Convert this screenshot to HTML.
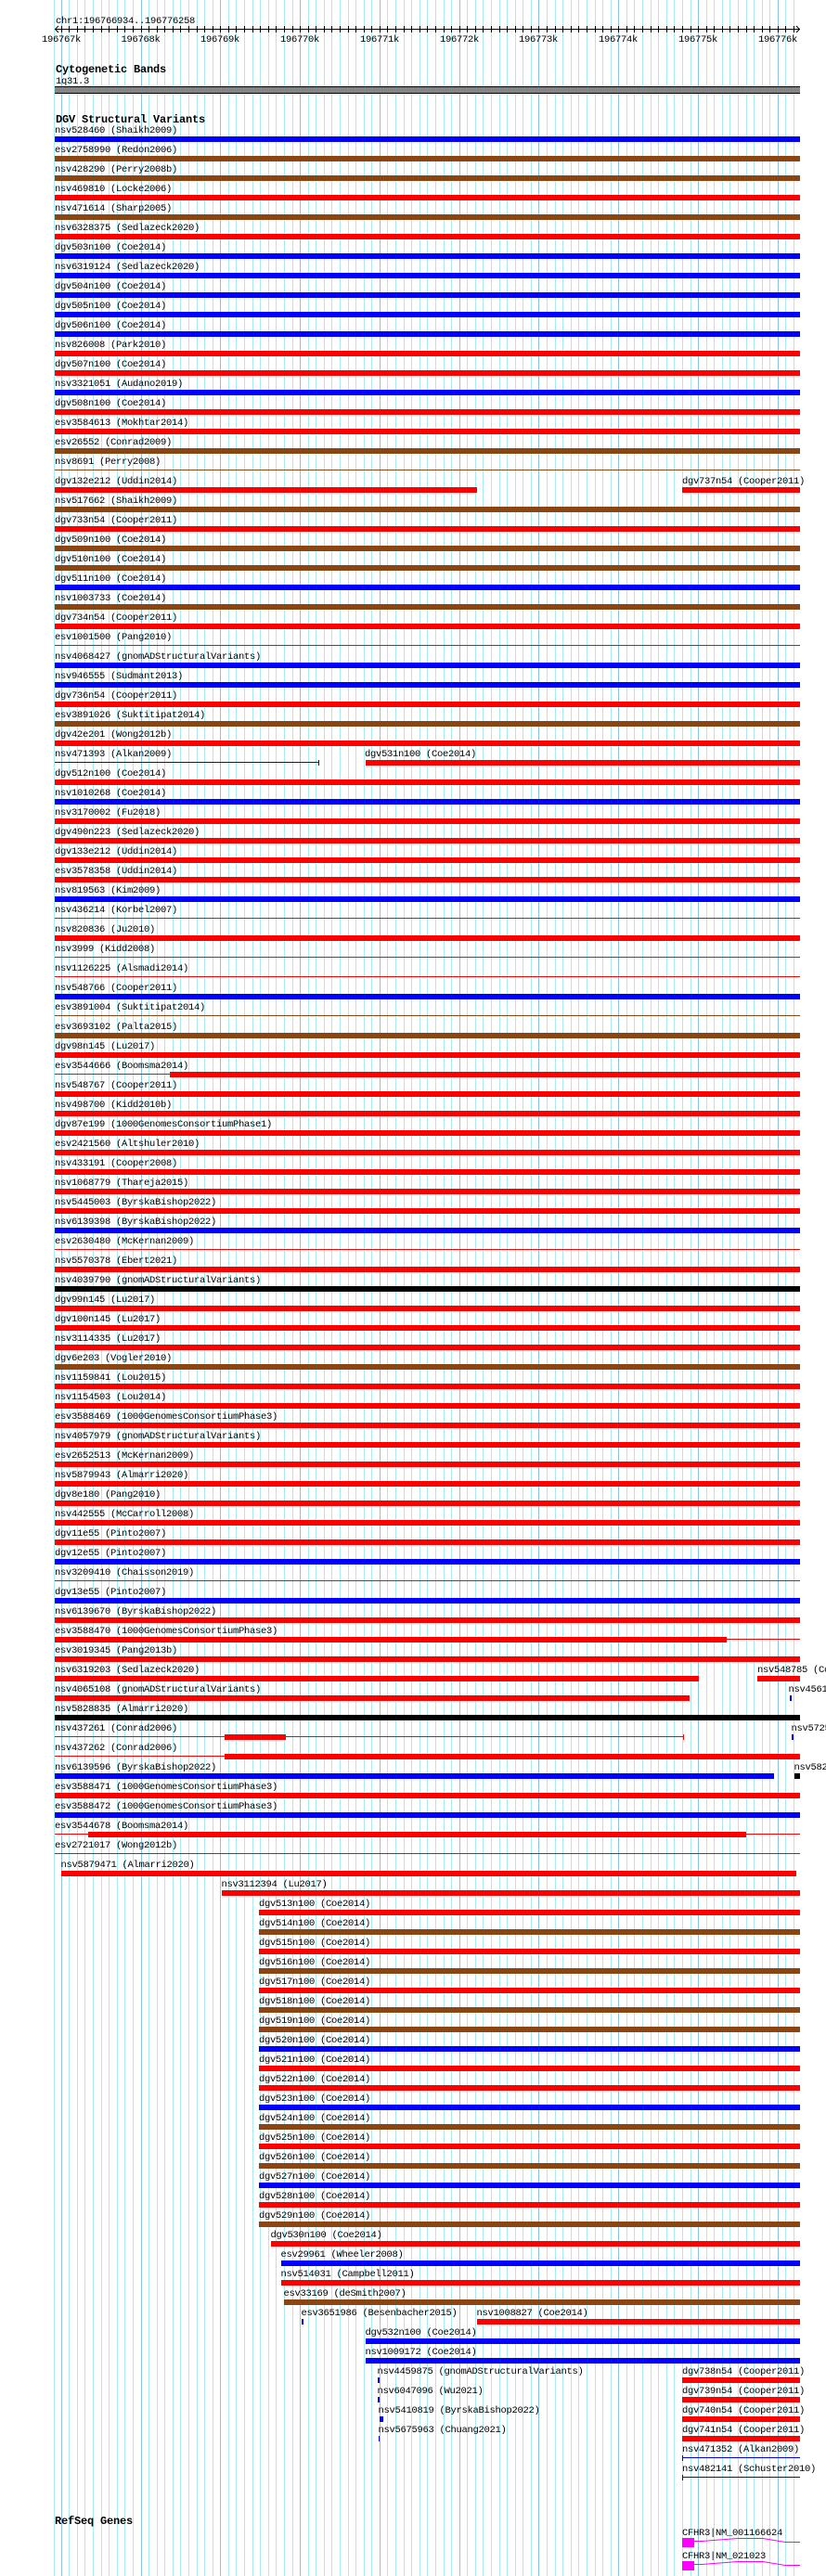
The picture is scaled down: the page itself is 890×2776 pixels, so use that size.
<!DOCTYPE html>
<html><head><meta charset="utf-8"><style>
html,body{margin:0;padding:0;background:#fff;width:890px;height:2776px;overflow:hidden}
svg{display:block}
.l{font-family:"Liberation Mono",monospace;font-size:10.5px;letter-spacing:-0.3px;fill:#000}
.t{font-family:"Liberation Mono",monospace;font-size:12px;font-weight:bold;letter-spacing:-0.2px;fill:#000}
.r{fill:#ff0000}.b{fill:#0000ff}.n{fill:#8b4513}.k{fill:#000}.m{fill:#ff00ff}
</style></head><body>
<svg width="890" height="2776" viewBox="0 0 890 2776" xmlns="http://www.w3.org/2000/svg">
<path stroke="#aaeaf0" stroke-width="1" fill="none" d="M58.5 0V2776M74.5 0V2776M83.5 0V2776M91.5 0V2776M100.5 0V2776M109.5 0V2776M117.5 0V2776M126.5 0V2776M134.5 0V2776M143.5 0V2776M160.5 0V2776M169.5 0V2776M177.5 0V2776M186.5 0V2776M194.5 0V2776M203.5 0V2776M212.5 0V2776M220.5 0V2776M229.5 0V2776M246.5 0V2776M254.5 0V2776M263.5 0V2776M272.5 0V2776M280.5 0V2776M289.5 0V2776M297.5 0V2776M306.5 0V2776M315.5 0V2776M332.5 0V2776M340.5 0V2776M349.5 0V2776M357.5 0V2776M366.5 0V2776M375.5 0V2776M383.5 0V2776M392.5 0V2776M400.5 0V2776M417.5 0V2776M426.5 0V2776M435.5 0V2776M443.5 0V2776M452.5 0V2776M460.5 0V2776M469.5 0V2776M478.5 0V2776M486.5 0V2776M503.5 0V2776M512.5 0V2776M520.5 0V2776M529.5 0V2776M538.5 0V2776M546.5 0V2776M555.5 0V2776M563.5 0V2776M572.5 0V2776M589.5 0V2776M598.5 0V2776M606.5 0V2776M615.5 0V2776M623.5 0V2776M632.5 0V2776M641.5 0V2776M649.5 0V2776M658.5 0V2776M675.5 0V2776M683.5 0V2776M692.5 0V2776M701.5 0V2776M709.5 0V2776M718.5 0V2776M726.5 0V2776M735.5 0V2776M744.5 0V2776M761.5 0V2776M769.5 0V2776M778.5 0V2776M786.5 0V2776M795.5 0V2776M804.5 0V2776M812.5 0V2776M821.5 0V2776M829.5 0V2776M846.5 0V2776M855.5 0V2776"/>
<path stroke="#8cc4e8" stroke-width="1" fill="none" d="M66.5 0V2776M152.5 0V2776M237.5 0V2776M323.5 0V2776M409.5 0V2776M495.5 0V2776M580.5 0V2776M666.5 0V2776M752.5 0V2776M838.5 0V2776"/>

<!-- ruler -->
<text class="l" x="60" y="25">chr1:196766934..196776258</text>
<path stroke="#000" stroke-width="1" fill="none" d="M59 31.5H862M63 28L59.5 31.5L63 35M858 28L861.5 31.5L858 35"/>
<path stroke="#000" stroke-width="1" fill="none" d="M66.5 28v7M74.5 28v7M83.5 28v7M91.5 28v7M100.5 28v7M109.5 28v7M117.5 28v7M126.5 28v7M134.5 28v7M143.5 28v7M152.5 28v7M160.5 28v7M169.5 28v7M177.5 28v7M186.5 28v7M194.5 28v7M203.5 28v7M212.5 28v7M220.5 28v7M229.5 28v7M237.5 28v7M246.5 28v7M254.5 28v7M263.5 28v7M272.5 28v7M280.5 28v7M289.5 28v7M297.5 28v7M306.5 28v7M315.5 28v7M323.5 28v7M332.5 28v7M340.5 28v7M349.5 28v7M357.5 28v7M366.5 28v7M375.5 28v7M383.5 28v7M392.5 28v7M400.5 28v7M409.5 28v7M417.5 28v7M426.5 28v7M435.5 28v7M443.5 28v7M452.5 28v7M460.5 28v7M469.5 28v7M478.5 28v7M486.5 28v7M495.5 28v7M503.5 28v7M512.5 28v7M520.5 28v7M529.5 28v7M538.5 28v7M546.5 28v7M555.5 28v7M563.5 28v7M572.5 28v7M580.5 28v7M589.5 28v7M598.5 28v7M606.5 28v7M615.5 28v7M623.5 28v7M632.5 28v7M641.5 28v7M649.5 28v7M658.5 28v7M666.5 28v7M675.5 28v7M683.5 28v7M692.5 28v7M701.5 28v7M709.5 28v7M718.5 28v7M726.5 28v7M735.5 28v7M744.5 28v7M752.5 28v7M761.5 28v7M769.5 28v7M778.5 28v7M786.5 28v7M795.5 28v7M804.5 28v7M812.5 28v7M821.5 28v7M829.5 28v7M838.5 28v7M846.5 28v7M855.5 28v7"/>
<g class="l" text-anchor="middle">
<text x="66" y="45">196767k</text><text x="151.5" y="45">196768k</text><text x="237" y="45">196769k</text><text x="323" y="45">196770k</text><text x="409" y="45">196771k</text><text x="495" y="45">196772k</text><text x="580" y="45">196773k</text><text x="666" y="45">196774k</text><text x="752" y="45">196775k</text><text x="838" y="45">196776k</text>
</g>

<!-- cytobands -->
<text class="t" x="60" y="78">Cytogenetic Bands</text>
<text class="l" x="60" y="90">1q31.3</text>
<rect x="59" y="93" width="803" height="1" fill="#000"/>
<rect x="59" y="94" width="803" height="6" fill="#858585"/>
<rect x="59" y="100" width="803" height="1" fill="#000"/>

<!-- DGV -->
<text class="t" x="60" y="132">DGV Structural Variants</text>

<g class="l">
<text x="59" y="143">nsv528460 (Shaikh2009)</text>
<text x="59" y="164">esv2758990 (Redon2006)</text>
<text x="59" y="185">nsv428290 (Perry2008b)</text>
<text x="59" y="206">nsv469810 (Locke2006)</text>
<text x="59" y="227">nsv471614 (Sharp2005)</text>
<text x="59" y="248">nsv6328375 (Sedlazeck2020)</text>
<text x="59" y="269">dgv503n100 (Coe2014)</text>
<text x="59" y="290">nsv6319124 (Sedlazeck2020)</text>
<text x="59" y="311">dgv504n100 (Coe2014)</text>
<text x="59" y="332">dgv505n100 (Coe2014)</text>
<text x="59" y="353">dgv506n100 (Coe2014)</text>
<text x="59" y="374">nsv826008 (Park2010)</text>
<text x="59" y="395">dgv507n100 (Coe2014)</text>
<text x="59" y="416">nsv3321051 (Audano2019)</text>
<text x="59" y="437">dgv508n100 (Coe2014)</text>
<text x="59" y="458">esv3584613 (Mokhtar2014)</text>
<text x="59" y="479">esv26552 (Conrad2009)</text>
<text x="59" y="500">nsv8691 (Perry2008)</text>
<text x="59" y="521">dgv132e212 (Uddin2014)</text>
<text x="735" y="521">dgv737n54 (Cooper2011)</text>
<text x="59" y="542">nsv517662 (Shaikh2009)</text>
<text x="59" y="563">dgv733n54 (Cooper2011)</text>
<text x="59" y="584">dgv509n100 (Coe2014)</text>
<text x="59" y="605">dgv510n100 (Coe2014)</text>
<text x="59" y="626">dgv511n100 (Coe2014)</text>
<text x="59" y="647">nsv1003733 (Coe2014)</text>
<text x="59" y="668">dgv734n54 (Cooper2011)</text>
<text x="59" y="689">esv1001500 (Pang2010)</text>
<text x="59" y="710">nsv4068427 (gnomADStructuralVariants)</text>
<text x="59" y="731">nsv946555 (Sudmant2013)</text>
<text x="59" y="752">dgv736n54 (Cooper2011)</text>
<text x="59" y="773">esv3891026 (Suktitipat2014)</text>
<text x="59" y="794">dgv42e201 (Wong2012b)</text>
<text x="59" y="815">nsv471393 (Alkan2009)</text>
<text x="393" y="815">dgv531n100 (Coe2014)</text>
<text x="59" y="836">dgv512n100 (Coe2014)</text>
<text x="59" y="857">nsv1010268 (Coe2014)</text>
<text x="59" y="878">nsv3170002 (Fu2018)</text>
<text x="59" y="899">dgv490n223 (Sedlazeck2020)</text>
<text x="59" y="920">dgv133e212 (Uddin2014)</text>
<text x="59" y="941">esv3578358 (Uddin2014)</text>
<text x="59" y="962">nsv819563 (Kim2009)</text>
<text x="59" y="983">nsv436214 (Korbel2007)</text>
<text x="59" y="1004">nsv820836 (Ju2010)</text>
<text x="59" y="1025">nsv3999 (Kidd2008)</text>
<text x="59" y="1046">nsv1126225 (Alsmadi2014)</text>
<text x="59" y="1067">nsv548766 (Cooper2011)</text>
<text x="59" y="1088">esv3891004 (Suktitipat2014)</text>
<text x="59" y="1109">esv3693102 (Palta2015)</text>
<text x="59" y="1130">dgv98n145 (Lu2017)</text>
<text x="59" y="1151">esv3544666 (Boomsma2014)</text>
<text x="59" y="1172">nsv548767 (Cooper2011)</text>
<text x="59" y="1193">nsv498700 (Kidd2010b)</text>
<text x="59" y="1214">dgv87e199 (1000GenomesConsortiumPhase1)</text>
<text x="59" y="1235">esv2421560 (Altshuler2010)</text>
<text x="59" y="1256">nsv433191 (Cooper2008)</text>
<text x="59" y="1277">nsv1068779 (Thareja2015)</text>
<text x="59" y="1298">nsv5445003 (ByrskaBishop2022)</text>
<text x="59" y="1319">nsv6139398 (ByrskaBishop2022)</text>
<text x="59" y="1340">esv2630480 (McKernan2009)</text>
<text x="59" y="1361">nsv5570378 (Ebert2021)</text>
<text x="59" y="1382">nsv4039790 (gnomADStructuralVariants)</text>
<text x="59" y="1403">dgv99n145 (Lu2017)</text>
<text x="59" y="1424">dgv100n145 (Lu2017)</text>
<text x="59" y="1445">nsv3114335 (Lu2017)</text>
<text x="59" y="1466">dgv6e203 (Vogler2010)</text>
<text x="59" y="1487">nsv1159841 (Lou2015)</text>
<text x="59" y="1508">nsv1154503 (Lou2014)</text>
<text x="59" y="1529">esv3588469 (1000GenomesConsortiumPhase3)</text>
<text x="59" y="1550">nsv4057979 (gnomADStructuralVariants)</text>
<text x="59" y="1571">esv2652513 (McKernan2009)</text>
<text x="59" y="1592">nsv5879943 (Almarri2020)</text>
<text x="59" y="1613">dgv8e180 (Pang2010)</text>
<text x="59" y="1634">nsv442555 (McCarroll2008)</text>
<text x="59" y="1655">dgv11e55 (Pinto2007)</text>
<text x="59" y="1676">dgv12e55 (Pinto2007)</text>
<text x="59" y="1697">nsv3209410 (Chaisson2019)</text>
<text x="59" y="1718">dgv13e55 (Pinto2007)</text>
<text x="59" y="1739">nsv6139670 (ByrskaBishop2022)</text>
<text x="59" y="1760">esv3588470 (1000GenomesConsortiumPhase3)</text>
<text x="59" y="1781">esv3019345 (Pang2013b)</text>
<text x="59" y="1802">nsv6319203 (Sedlazeck2020)</text>
<text x="816" y="1802">nsv548785 (Cooper2011)</text>
<text x="59" y="1823">nsv4065108 (gnomADStructuralVariants)</text>
<text x="849.5" y="1823">nsv4561234</text>
<text x="59" y="1844">nsv5828835 (Almarri2020)</text>
<text x="59" y="1865">nsv437261 (Conrad2006)</text>
<text x="852.5" y="1865">nsv5725</text>
<text x="59" y="1886">nsv437262 (Conrad2006)</text>
<text x="59" y="1907">nsv6139596 (ByrskaBishop2022)</text>
<text x="855.5" y="1907">nsv582</text>
<text x="59" y="1928">esv3588471 (1000GenomesConsortiumPhase3)</text>
<text x="59" y="1949">esv3588472 (1000GenomesConsortiumPhase3)</text>
<text x="59" y="1970">esv3544678 (Boomsma2014)</text>
<text x="59" y="1991">esv2721017 (Wong2012b)</text>
<text x="65.5" y="2012">nsv5879471 (Almarri2020)</text>
<text x="238.5" y="2033">nsv3112394 (Lu2017)</text>
<text x="279" y="2054">dgv513n100 (Coe2014)</text>
<text x="279" y="2075">dgv514n100 (Coe2014)</text>
<text x="279" y="2096">dgv515n100 (Coe2014)</text>
<text x="279" y="2117">dgv516n100 (Coe2014)</text>
<text x="279" y="2138">dgv517n100 (Coe2014)</text>
<text x="279" y="2159">dgv518n100 (Coe2014)</text>
<text x="279" y="2180">dgv519n100 (Coe2014)</text>
<text x="279" y="2201">dgv520n100 (Coe2014)</text>
<text x="279" y="2222">dgv521n100 (Coe2014)</text>
<text x="279" y="2243">dgv522n100 (Coe2014)</text>
<text x="279" y="2264">dgv523n100 (Coe2014)</text>
<text x="279" y="2285">dgv524n100 (Coe2014)</text>
<text x="279" y="2306">dgv525n100 (Coe2014)</text>
<text x="279" y="2327">dgv526n100 (Coe2014)</text>
<text x="279" y="2348">dgv527n100 (Coe2014)</text>
<text x="279" y="2369">dgv528n100 (Coe2014)</text>
<text x="279" y="2390">dgv529n100 (Coe2014)</text>
<text x="291.5" y="2411">dgv530n100 (Coe2014)</text>
<text x="302.5" y="2432">esv29961 (Wheeler2008)</text>
<text x="302.5" y="2453">nsv514031 (Campbell2011)</text>
<text x="305.5" y="2474">esv33169 (deSmith2007)</text>
<text x="324.5" y="2495">esv3651986 (Besenbacher2015)</text>
<text x="513.5" y="2495">nsv1008827 (Coe2014)</text>
<text x="393.5" y="2516">dgv532n100 (Coe2014)</text>
<text x="393.5" y="2537">nsv1009172 (Coe2014)</text>
<text x="406.5" y="2558">nsv4459875 (gnomADStructuralVariants)</text>
<text x="735" y="2558">dgv738n54 (Cooper2011)</text>
<text x="406.5" y="2579">nsv6047096 (Wu2021)</text>
<text x="735" y="2579">dgv739n54 (Cooper2011)</text>
<text x="407.5" y="2600">nsv5410819 (ByrskaBishop2022)</text>
<text x="735" y="2600">dgv740n54 (Cooper2011)</text>
<text x="407.5" y="2621">nsv5675963 (Chuang2021)</text>
<text x="735" y="2621">dgv741n54 (Cooper2011)</text>
<text x="735" y="2642">nsv471352 (Alkan2009)</text>
<text x="735" y="2663">nsv482141 (Schuster2010)</text>
</g>

<!-- bars -->
<rect class="b" x="59" y="147" width="803" height="6"/>
<rect class="n" x="59" y="168" width="803" height="6"/>
<rect class="n" x="59" y="189" width="803" height="6"/>
<rect class="r" x="59" y="210" width="803" height="6"/>
<rect class="n" x="59" y="231" width="803" height="6"/>
<rect class="r" x="59" y="252" width="803" height="6"/>
<rect class="b" x="59" y="273" width="803" height="6"/>
<rect class="b" x="59" y="294" width="803" height="6"/>
<rect class="b" x="59" y="315" width="803" height="6"/>
<rect class="b" x="59" y="336" width="803" height="6"/>
<rect class="b" x="59" y="357" width="803" height="6"/>
<rect class="r" x="59" y="378" width="803" height="6"/>
<rect class="r" x="59" y="399" width="803" height="6"/>
<rect class="b" x="59" y="420" width="803" height="6"/>
<rect class="r" x="59" y="441" width="803" height="6"/>
<rect class="r" x="59" y="462" width="803" height="6"/>
<rect class="n" x="59" y="483" width="803" height="6"/>
<rect class="n" x="59" y="506" width="803" height="1"/>
<rect class="r" x="59" y="525" width="455" height="6"/>
<rect class="r" x="735" y="525" width="127" height="6"/>
<rect class="n" x="59" y="546" width="803" height="6"/>
<rect class="r" x="59" y="567" width="803" height="6"/>
<rect class="n" x="59" y="588" width="803" height="6"/>
<rect class="n" x="59" y="609" width="803" height="6"/>
<rect class="b" x="59" y="630" width="803" height="6"/>
<rect class="n" x="59" y="651" width="803" height="6"/>
<rect class="r" x="59" y="672" width="803" height="6"/>
<rect class="r" x="59" y="695" width="803" height="1"/>
<rect class="b" x="59" y="714" width="803" height="6"/>
<rect class="b" x="59" y="735" width="803" height="6"/>
<rect class="r" x="59" y="756" width="803" height="6"/>
<rect class="n" x="59" y="777" width="803" height="6"/>
<rect class="r" x="59" y="798" width="803" height="6"/>
<rect class="b" x="59" y="821" width="285" height="1"/>
<rect class="b" x="343" y="819" width="1" height="6"/>
<rect class="r" x="394" y="819" width="468" height="6"/>
<rect class="r" x="59" y="840" width="803" height="6"/>
<rect class="b" x="59" y="861" width="803" height="6"/>
<rect class="r" x="59" y="882" width="803" height="6"/>
<rect class="r" x="59" y="903" width="803" height="6"/>
<rect class="r" x="59" y="924" width="803" height="6"/>
<rect class="r" x="59" y="945" width="803" height="6"/>
<rect class="b" x="59" y="966" width="803" height="6"/>
<rect class="r" x="59" y="989" width="803" height="1"/>
<rect class="r" x="59" y="1008" width="803" height="6"/>
<rect class="r" x="59" y="1031" width="803" height="1"/>
<rect class="r" x="59" y="1052" width="803" height="1"/>
<rect class="b" x="59" y="1071" width="803" height="6"/>
<rect class="n" x="59" y="1094" width="803" height="1"/>
<rect class="n" x="59" y="1113" width="803" height="6"/>
<rect class="r" x="59" y="1134" width="803" height="6"/>
<rect class="r" x="59" y="1157" width="124" height="1"/>
<rect class="r" x="183" y="1155" width="679" height="6"/>
<rect class="r" x="59" y="1176" width="803" height="6"/>
<rect class="r" x="59" y="1197" width="803" height="6"/>
<rect class="r" x="59" y="1218" width="803" height="6"/>
<rect class="r" x="59" y="1239" width="803" height="6"/>
<rect class="r" x="59" y="1260" width="803" height="6"/>
<rect class="r" x="59" y="1281" width="803" height="6"/>
<rect class="r" x="59" y="1302" width="803" height="6"/>
<rect class="b" x="59" y="1323" width="803" height="6"/>
<rect class="r" x="59" y="1346" width="803" height="1"/>
<rect class="r" x="59" y="1365" width="803" height="6"/>
<rect class="k" x="59" y="1386" width="803" height="6"/>
<rect class="r" x="59" y="1407" width="803" height="6"/>
<rect class="r" x="59" y="1428" width="803" height="6"/>
<rect class="r" x="59" y="1449" width="803" height="6"/>
<rect class="n" x="59" y="1470" width="803" height="6"/>
<rect class="r" x="59" y="1491" width="803" height="6"/>
<rect class="r" x="59" y="1512" width="803" height="6"/>
<rect class="r" x="59" y="1533" width="803" height="6"/>
<rect class="r" x="59" y="1554" width="803" height="6"/>
<rect class="r" x="59" y="1575" width="803" height="6"/>
<rect class="r" x="59" y="1596" width="803" height="6"/>
<rect class="r" x="59" y="1617" width="803" height="6"/>
<rect class="r" x="59" y="1638" width="803" height="6"/>
<rect class="r" x="59" y="1659" width="803" height="6"/>
<rect class="b" x="59" y="1680" width="803" height="6"/>
<rect class="r" x="59" y="1703" width="803" height="1"/>
<rect class="b" x="59" y="1722" width="803" height="6"/>
<rect class="r" x="59" y="1743" width="803" height="6"/>
<rect class="r" x="59" y="1764" width="724" height="6"/>
<rect class="r" x="783" y="1766" width="79" height="1"/>
<rect class="r" x="59" y="1785" width="803" height="6"/>
<rect class="r" x="59" y="1806" width="694" height="6"/>
<rect class="r" x="816" y="1806" width="46" height="6"/>
<rect class="r" x="59" y="1827" width="684" height="6"/>
<rect class="b" x="851" y="1827" width="2" height="6"/>
<rect class="k" x="59" y="1848" width="803" height="6"/>
<rect class="r" x="59" y="1871" width="677" height="1"/>
<rect class="r" x="736" y="1869" width="1" height="6"/>
<rect class="r" x="242" y="1869" width="66" height="6"/>
<rect class="b" x="853" y="1869" width="2" height="6"/>
<rect class="r" x="59" y="1892" width="183" height="1"/>
<rect class="r" x="242" y="1890" width="620" height="6"/>
<rect class="b" x="59" y="1911" width="775" height="6"/>
<rect class="k" x="856" y="1911" width="6" height="6"/>
<rect class="r" x="59" y="1932" width="803" height="6"/>
<rect class="b" x="59" y="1953" width="803" height="6"/>
<rect class="r" x="59" y="1976" width="803" height="1"/>
<rect class="r" x="95" y="1974" width="709" height="6"/>
<rect class="r" x="59" y="1997" width="803" height="1"/>
<rect class="r" x="66" y="2016" width="792" height="6"/>
<rect class="r" x="239" y="2037" width="623" height="6"/>
<rect class="r" x="279" y="2058" width="583" height="6"/>
<rect class="n" x="279" y="2079" width="583" height="6"/>
<rect class="r" x="279" y="2100" width="583" height="6"/>
<rect class="n" x="279" y="2121" width="583" height="6"/>
<rect class="r" x="279" y="2142" width="583" height="6"/>
<rect class="n" x="279" y="2163" width="583" height="6"/>
<rect class="n" x="279" y="2184" width="583" height="6"/>
<rect class="b" x="279" y="2205" width="583" height="6"/>
<rect class="r" x="279" y="2226" width="583" height="6"/>
<rect class="r" x="279" y="2247" width="583" height="6"/>
<rect class="b" x="279" y="2268" width="583" height="6"/>
<rect class="n" x="279" y="2289" width="583" height="6"/>
<rect class="r" x="279" y="2310" width="583" height="6"/>
<rect class="n" x="279" y="2331" width="583" height="6"/>
<rect class="b" x="279" y="2352" width="583" height="6"/>
<rect class="r" x="279" y="2373" width="583" height="6"/>
<rect class="n" x="279" y="2394" width="583" height="6"/>
<rect class="r" x="292" y="2415" width="570" height="6"/>
<rect class="b" x="303" y="2436" width="559" height="6"/>
<rect class="r" x="303" y="2457" width="559" height="6"/>
<rect class="n" x="306" y="2478" width="556" height="6"/>
<rect class="b" x="325" y="2499" width="2" height="6"/>
<rect class="r" x="514" y="2499" width="348" height="6"/>
<rect class="b" x="394" y="2520" width="468" height="6"/>
<rect class="b" x="394" y="2541" width="468" height="6"/>
<rect class="b" x="407" y="2562" width="2" height="6"/>
<rect class="r" x="735" y="2562" width="127" height="6"/>
<rect class="b" x="407" y="2583" width="2" height="6"/>
<rect class="r" x="735" y="2583" width="127" height="6"/>
<rect class="b" x="409" y="2604" width="4" height="6"/>
<rect class="r" x="735" y="2604" width="127" height="6"/>
<rect class="b" x="408" y="2625" width="1" height="6"/>
<rect class="r" x="735" y="2625" width="127" height="6"/>
<rect class="b" x="735" y="2646" width="1" height="6"/>
<rect class="b" x="735" y="2648" width="127" height="1"/>
<rect class="b" x="735" y="2667" width="1" height="6"/>
<rect class="b" x="735" y="2669" width="127" height="1"/>

<!-- RefSeq -->
<text class="t" x="59" y="2720">RefSeq Genes</text>
<text class="l" x="735" y="2732">CFHR3|NM_001166624</text>
<rect class="m" x="735" y="2735" width="13" height="10"/>
<polyline fill="none" stroke="#ff00ff" stroke-width="1" points="748,2738.5 756,2738.5 795,2735.5 822,2735.5 846,2739.5 862,2739.5"/>
<text class="l" x="735" y="2757">CFHR3|NM_021023</text>
<rect class="m" x="735" y="2760" width="13" height="10"/>
<polyline fill="none" stroke="#ff00ff" stroke-width="1" points="748,2763.5 756,2763.5 795,2760.5 822,2760.5 846,2764.5 862,2764.5"/>
</svg>
</body></html>
